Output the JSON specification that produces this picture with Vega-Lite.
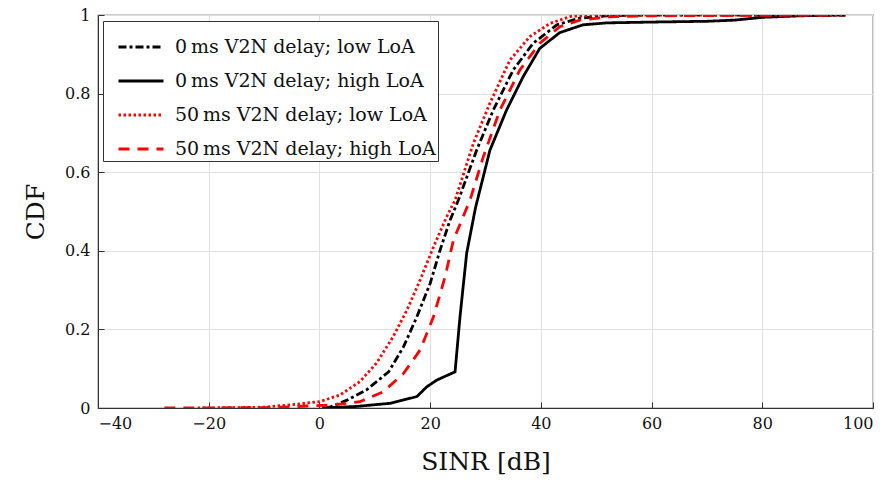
{
  "$schema": "https://vega.github.io/schema/vega-lite/v6.json",
  "width": 775,
  "height": 393,
  "autosize": "none",
  "padding": {"left": 98, "top": 15, "right": 19, "bottom": 80},
  "background": "white",
  "config": {
    "font": "DejaVu Serif",
    "view": {"stroke": "#333", "strokeWidth": 1.2},
    "axis": {
      "labelFont": "DejaVu Serif",
      "titleFont": "DejaVu Serif",
      "labelFontSize": 16,
      "titleFontSize": 25,
      "titleFontWeight": "normal",
      "labelColor": "#111",
      "titleColor": "#111",
      "gridColor": "#e0e0e0",
      "gridWidth": 1,
      "domainColor": "#333",
      "tickColor": "#333",
      "tickSize": -6
    },
    "legend": {
      "labelFont": "DejaVu Serif",
      "labelFontSize": 19,
      "labelColor": "#111",
      "labelLimit": 0
    }
  },
  "data": {
    "values": [
      {"s": "0\u2009ms V2N delay; low LoA", "x": 1, "y": 0},
      {"s": "0\u2009ms V2N delay; low LoA", "x": 2, "y": 0.003},
      {"s": "0\u2009ms V2N delay; low LoA", "x": 5, "y": 0.02},
      {"s": "0\u2009ms V2N delay; low LoA", "x": 8.5, "y": 0.046},
      {"s": "0\u2009ms V2N delay; low LoA", "x": 12.5, "y": 0.092},
      {"s": "0\u2009ms V2N delay; low LoA", "x": 15.2, "y": 0.156},
      {"s": "0\u2009ms V2N delay; low LoA", "x": 17.6, "y": 0.232},
      {"s": "0\u2009ms V2N delay; low LoA", "x": 20, "y": 0.317},
      {"s": "0\u2009ms V2N delay; low LoA", "x": 21.8, "y": 0.402},
      {"s": "0\u2009ms V2N delay; low LoA", "x": 23.6, "y": 0.478},
      {"s": "0\u2009ms V2N delay; low LoA", "x": 25.1, "y": 0.529},
      {"s": "0\u2009ms V2N delay; low LoA", "x": 28.4, "y": 0.656},
      {"s": "0\u2009ms V2N delay; low LoA", "x": 31.4, "y": 0.758},
      {"s": "0\u2009ms V2N delay; low LoA", "x": 35, "y": 0.86},
      {"s": "0\u2009ms V2N delay; low LoA", "x": 38.6, "y": 0.928},
      {"s": "0\u2009ms V2N delay; low LoA", "x": 42.9, "y": 0.975},
      {"s": "0\u2009ms V2N delay; low LoA", "x": 47, "y": 0.992},
      {"s": "0\u2009ms V2N delay; low LoA", "x": 52, "y": 0.998},
      {"s": "0\u2009ms V2N delay; low LoA", "x": 60, "y": 1},
      {"s": "0\u2009ms V2N delay; low LoA", "x": 95, "y": 1},

      {"s": "0\u2009ms V2N delay; high LoA", "x": 0.5, "y": 0},
      {"s": "0\u2009ms V2N delay; high LoA", "x": 6.7, "y": 0.004},
      {"s": "0\u2009ms V2N delay; high LoA", "x": 12.8, "y": 0.012},
      {"s": "0\u2009ms V2N delay; high LoA", "x": 17.6, "y": 0.029},
      {"s": "0\u2009ms V2N delay; high LoA", "x": 19.4, "y": 0.054},
      {"s": "0\u2009ms V2N delay; high LoA", "x": 21.2, "y": 0.071},
      {"s": "0\u2009ms V2N delay; high LoA", "x": 24.5, "y": 0.092},
      {"s": "0\u2009ms V2N delay; high LoA", "x": 25.4, "y": 0.233},
      {"s": "0\u2009ms V2N delay; high LoA", "x": 26.6, "y": 0.394},
      {"s": "0\u2009ms V2N delay; high LoA", "x": 28.2, "y": 0.51},
      {"s": "0\u2009ms V2N delay; high LoA", "x": 30.8, "y": 0.656},
      {"s": "0\u2009ms V2N delay; high LoA", "x": 33.8, "y": 0.758},
      {"s": "0\u2009ms V2N delay; high LoA", "x": 36.8, "y": 0.843},
      {"s": "0\u2009ms V2N delay; high LoA", "x": 39.8, "y": 0.915},
      {"s": "0\u2009ms V2N delay; high LoA", "x": 43.4, "y": 0.955},
      {"s": "0\u2009ms V2N delay; high LoA", "x": 47.6, "y": 0.975},
      {"s": "0\u2009ms V2N delay; high LoA", "x": 52, "y": 0.98},
      {"s": "0\u2009ms V2N delay; high LoA", "x": 60, "y": 0.982},
      {"s": "0\u2009ms V2N delay; high LoA", "x": 70, "y": 0.984},
      {"s": "0\u2009ms V2N delay; high LoA", "x": 75, "y": 0.987},
      {"s": "0\u2009ms V2N delay; high LoA", "x": 80, "y": 0.994},
      {"s": "0\u2009ms V2N delay; high LoA", "x": 87, "y": 0.998},
      {"s": "0\u2009ms V2N delay; high LoA", "x": 95, "y": 1},

      {"s": "50\u2009ms V2N delay; low LoA", "x": -22, "y": 0},
      {"s": "50\u2009ms V2N delay; low LoA", "x": -10, "y": 0.002},
      {"s": "50\u2009ms V2N delay; low LoA", "x": -5.3, "y": 0.008},
      {"s": "50\u2009ms V2N delay; low LoA", "x": 0, "y": 0.016},
      {"s": "50\u2009ms V2N delay; low LoA", "x": 3.7, "y": 0.033},
      {"s": "50\u2009ms V2N delay; low LoA", "x": 7.3, "y": 0.067},
      {"s": "50\u2009ms V2N delay; low LoA", "x": 10.3, "y": 0.114},
      {"s": "50\u2009ms V2N delay; low LoA", "x": 13.3, "y": 0.181},
      {"s": "50\u2009ms V2N delay; low LoA", "x": 15.8, "y": 0.249},
      {"s": "50\u2009ms V2N delay; low LoA", "x": 18.2, "y": 0.326},
      {"s": "50\u2009ms V2N delay; low LoA", "x": 20.6, "y": 0.41},
      {"s": "50\u2009ms V2N delay; low LoA", "x": 23, "y": 0.487},
      {"s": "50\u2009ms V2N delay; low LoA", "x": 24.5, "y": 0.529},
      {"s": "50\u2009ms V2N delay; low LoA", "x": 27.8, "y": 0.673},
      {"s": "50\u2009ms V2N delay; low LoA", "x": 30.8, "y": 0.776},
      {"s": "50\u2009ms V2N delay; low LoA", "x": 34.4, "y": 0.885},
      {"s": "50\u2009ms V2N delay; low LoA", "x": 38, "y": 0.945},
      {"s": "50\u2009ms V2N delay; low LoA", "x": 41.7, "y": 0.979},
      {"s": "50\u2009ms V2N delay; low LoA", "x": 45.3, "y": 0.996},
      {"s": "50\u2009ms V2N delay; low LoA", "x": 50, "y": 1},
      {"s": "50\u2009ms V2N delay; low LoA", "x": 95, "y": 1},

      {"s": "50\u2009ms V2N delay; high LoA", "x": -28, "y": 0},
      {"s": "50\u2009ms V2N delay; high LoA", "x": -10, "y": 0.001},
      {"s": "50\u2009ms V2N delay; high LoA", "x": -5.3, "y": 0.003},
      {"s": "50\u2009ms V2N delay; high LoA", "x": 2.5, "y": 0.008},
      {"s": "50\u2009ms V2N delay; high LoA", "x": 7.3, "y": 0.016},
      {"s": "50\u2009ms V2N delay; high LoA", "x": 11.5, "y": 0.041},
      {"s": "50\u2009ms V2N delay; high LoA", "x": 15.2, "y": 0.088},
      {"s": "50\u2009ms V2N delay; high LoA", "x": 18.2, "y": 0.148},
      {"s": "50\u2009ms V2N delay; high LoA", "x": 20.6, "y": 0.232},
      {"s": "50\u2009ms V2N delay; high LoA", "x": 22.7, "y": 0.334},
      {"s": "50\u2009ms V2N delay; high LoA", "x": 24.2, "y": 0.427},
      {"s": "50\u2009ms V2N delay; high LoA", "x": 27.2, "y": 0.529},
      {"s": "50\u2009ms V2N delay; high LoA", "x": 29.6, "y": 0.639},
      {"s": "50\u2009ms V2N delay; high LoA", "x": 32.6, "y": 0.758},
      {"s": "50\u2009ms V2N delay; high LoA", "x": 36.2, "y": 0.86},
      {"s": "50\u2009ms V2N delay; high LoA", "x": 39.8, "y": 0.928},
      {"s": "50\u2009ms V2N delay; high LoA", "x": 43.4, "y": 0.97},
      {"s": "50\u2009ms V2N delay; high LoA", "x": 47, "y": 0.987},
      {"s": "50\u2009ms V2N delay; high LoA", "x": 52, "y": 0.995},
      {"s": "50\u2009ms V2N delay; high LoA", "x": 60, "y": 0.998},
      {"s": "50\u2009ms V2N delay; high LoA", "x": 93, "y": 1}
    ]
  },
  "mark": {"type": "line", "strokeWidth": 2.8, "clip": true},
  "encoding": {
    "x": {
      "field": "x", "type": "quantitative",
      "scale": {"domain": [-40, 100], "nice": false, "zero": false},
      "axis": {"values": [-40, -20, 0, 20, 40, 60, 80, 100], "title": "SINR [dB]", "titlePadding": 18, "labelPadding": 13}
    },
    "y": {
      "field": "y", "type": "quantitative",
      "scale": {"domain": [0, 1], "nice": false},
      "axis": {"values": [0, 0.2, 0.4, 0.6, 0.8, 1], "format": ".1~f", "title": "CDF", "titlePadding": 16, "labelPadding": 14}
    },
    "color": {
      "field": "s", "type": "nominal",
      "scale": {
        "domain": ["0\u2009ms V2N delay; low LoA", "0\u2009ms V2N delay; high LoA", "50\u2009ms V2N delay; low LoA", "50\u2009ms V2N delay; high LoA"],
        "range": ["#000000", "#000000", "#ff0000", "#ff0000"]
      },
      "legend": {
        "title": null,
        "orient": "none",
        "legendX": 5,
        "legendY": 6,
        "symbolType": "stroke",
        "symbolSize": 2025,
        "symbolStrokeWidth": 2.8,
        "symbolOffset": 12,
        "strokeColor": "#333",
        "fillColor": "white",
        "padding": 2,
        "rowPadding": -15,
        "labelOffset": 10
      }
    },
    "strokeDash": {
      "field": "s", "type": "nominal",
      "scale": {
        "domain": ["0\u2009ms V2N delay; low LoA", "0\u2009ms V2N delay; high LoA", "50\u2009ms V2N delay; low LoA", "50\u2009ms V2N delay; high LoA"],
        "range": [[8, 3, 3, 3], [1, 0], [2.5, 2.5], [11, 8]]
      },
      "legend": null
    }
  }
}
